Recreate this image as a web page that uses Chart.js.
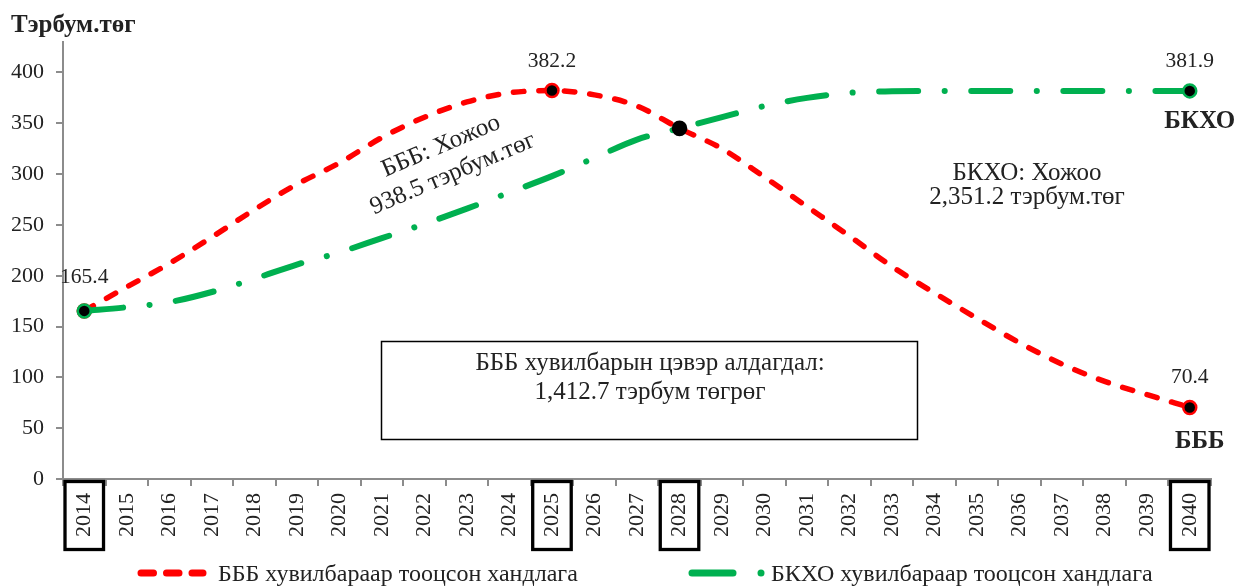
<!DOCTYPE html>
<html>
<head>
<meta charset="utf-8">
<script src="https://cdn.jsdelivr.net/npm/chart.js@4/dist/chart.umd.min.js"></script>
<style>
html,body{margin:0;padding:0;background:#fff;}
#wrap{width:1237px;height:586px;}
</style>
</head>
<body>
<div id="wrap"><canvas id="c" width="1237" height="586"></canvas></div>
<script>
const years = ['2014','2015','2016','2017','2018','2019','2020','2021','2022','2023','2024','2025','2026','2027','2028','2029','2030','2031','2032','2033','2034','2035','2036','2037','2038','2039','2040'];
const bbbValues = [165.4,189,212,238,265,290,311,336,356,371,380,382.2,378,367,345,325,297,268,239,209,183,158,134,113,96,83,70.4];
const bkhoValues = [165.4,169,174,184,197,211,223,237,251,266,282,298,316,334,345,356,367,375,380,381.5,381.9,381.9,381.9,381.9,381.9,381.9,381.9];
const yTicks = [0,50,100,150,200,250,300,350,400];
const seriesNames = ['БББ хувилбараар тооцсон хандлага','БКХО хувилбараар тооцсон хандлага'];
const bbbMarked = ['2014','2025','2040'];
const bkhoMarked = ['2014','2040'];
const boxedYears = ['2014','2025','2028','2040'];
const crossYear = '2028';
const yTitle = 'Тэрбум.төг';
const bbbNote = ['БББ: Хожоо','938.5 тэрбум.төг'];
const bkhoNote = ['БКХО: Хожоо','2,351.2 тэрбум.төг'];
const lossNote = ['БББ хувилбарын цэвэр алдагдал:','1,412.7 тэрбум төгрөг'];
const endNames = ['БББ','БКХО'];

const FONT = "'Liberation Serif','Times New Roman',serif";
const RED = '#ff0000', GREEN = '#00b050', TXT = '#222', AX = '#8c8c8c';

const overlay = {
  id:'overlay',
  afterDatasetsDraw(chart){
    const ctx = chart.ctx;
    const xs = chart.scales.x, ys = chart.scales.y;
    const ci = years.indexOf(crossYear);
    ctx.save();
    ctx.fillStyle = '#000';
    ctx.beginPath();
    ctx.arc(xs.getPixelForValue(ci), ys.getPixelForValue(bbbValues[ci]), 7.8, 0, Math.PI*2);
    ctx.fill();
    ctx.restore();
  },
  afterDraw(chart){
    const ctx = chart.ctx;
    const xs = chart.scales.x, ys = chart.scales.y;
    const ca = chart.chartArea;
    ctx.save();
    ctx.fillStyle = TXT;
    ctx.textBaseline = 'alphabetic';
    // y title
    ctx.font = 'bold 25px ' + FONT;
    ctx.textAlign = 'left';
    ctx.fillText(yTitle, 11, 32);
    // value labels
    ctx.textAlign = 'center';
    ctx.font = '21.5px ' + FONT;
    const lab = (vals, idx, dy) => {
      ctx.fillText(vals[idx].toFixed(1), xs.getPixelForValue(idx), ys.getPixelForValue(vals[idx]) - dy);
    };
    const last = years.length-1;
    lab(bbbValues, 0, 28);
    lab(bbbValues, years.indexOf('2025'), 24);
    lab(bbbValues, last, 24);
    lab(bkhoValues, last, 24);
    // end names
    ctx.font = 'bold 25px ' + FONT;
    ctx.fillText(endNames[1], xs.getPixelForValue(last)+10, ys.getPixelForValue(bkhoValues[last]) + 37);
    ctx.fillText(endNames[0], xs.getPixelForValue(last)+10, ys.getPixelForValue(bbbValues[last]) + 41);
    // notes
    ctx.font = '25px ' + FONT;
    ctx.fillText(bkhoNote[0], 1027, 180);
    ctx.fillText(bkhoNote[1], 1027, 204);
    ctx.save();
    ctx.translate(447, 160);
    ctx.rotate(-23*Math.PI/180);
    ctx.textBaseline = 'middle';
    ctx.fillText(bbbNote[0], 0, -15);
    ctx.fillText(bbbNote[1], 0, 15);
    ctx.restore();
    // loss box
    ctx.strokeStyle = '#000';
    ctx.lineWidth = 1.5;
    ctx.strokeRect(381.5, 341.5, 536, 98);
    ctx.fillText(lossNote[0], 650, 370);
    ctx.fillText(lossNote[1], 650, 399);
    // boxed years
    const cw = xs.getPixelForValue(1) - xs.getPixelForValue(0);
    ctx.lineWidth = 3.3;
    boxedYears.forEach(y => {
      const i = years.indexOf(y);
      const cx = xs.getPixelForValue(i);
      ctx.strokeRect(cx - cw/2 + 2, ca.bottom + 2.5, cw - 4, 68);
    });
    // legend
    const ly = 573;
    ctx.lineWidth = 7;
    ctx.lineCap = 'round';
    ctx.strokeStyle = RED;
    ctx.setLineDash([12.5,13]);
    ctx.beginPath(); ctx.moveTo(141, ly); ctx.lineTo(203, ly); ctx.stroke();
    ctx.setLineDash([]);
    ctx.strokeStyle = GREEN;
    ctx.beginPath(); ctx.moveTo(692, ly); ctx.lineTo(733, ly); ctx.stroke();
    ctx.fillStyle = GREEN;
    ctx.beginPath(); ctx.arc(761, ly, 3.5, 0, Math.PI*2); ctx.fill();
    ctx.fillStyle = TXT;
    ctx.textAlign = 'left';
    ctx.font = '24px ' + FONT;
    ctx.fillText(seriesNames[0], 218, 581);
    ctx.fillText(seriesNames[1], 771, 581);
    ctx.restore();
  }
};

const markR = (list) => (c) => list.includes(years[c.dataIndex]) ? 6.5 : 0;

new Chart(document.getElementById('c'), {
  type:'line',
  data:{
    labels: years,
    datasets:[
      {label:seriesNames[0], data:bbbValues, borderColor:RED, borderWidth:5.5, borderDash:[10.5,15], borderCapStyle:'round',
       cubicInterpolationMode:'monotone', pointRadius:markR(bbbMarked), pointBackgroundColor:'#000', pointBorderColor:RED, pointBorderWidth:2.5, order:1, fill:false},
      {label:seriesNames[1], data:bkhoValues, borderColor:GREEN, borderWidth:6, borderDash:[39,26.5,0.1,26.5], borderCapStyle:'round',
       cubicInterpolationMode:'monotone', pointRadius:markR(bkhoMarked), pointBackgroundColor:'#000', pointBorderColor:GREEN, pointBorderWidth:2.5, order:0, fill:false}
    ]
  },
  options:{
    responsive:false,
    animation:false,
    layout:{padding:{top:42,right:26,left:0,bottom:0}},
    plugins:{legend:{display:false}, tooltip:{enabled:false}},
    scales:{
      x:{
        type:'category',
        offset:true,
        grid:{display:true, drawOnChartArea:false, offset:true, tickLength:7, color:AX, lineWidth:2},
        border:{display:true, color:AX, width:2},
        ticks:{minRotation:90, maxRotation:90, padding:7, color:TXT, font:{family:FONT, size:22}},
        afterFit(s){ s.height = 107; }
      },
      y:{
        min:0, max:430,
        afterBuildTicks(s){ s.ticks = yTicks.map(v => ({value:v})); },
        grid:{display:true, drawOnChartArea:false, tickLength:7, color:AX, lineWidth:2},
        border:{display:true, color:AX, width:2},
        ticks:{padding:12, color:TXT, font:{family:FONT, size:22}},
        afterFit(s){ s.width = 63; }
      }
    }
  },
  plugins:[overlay]
});
</script>
</body>
</html>
